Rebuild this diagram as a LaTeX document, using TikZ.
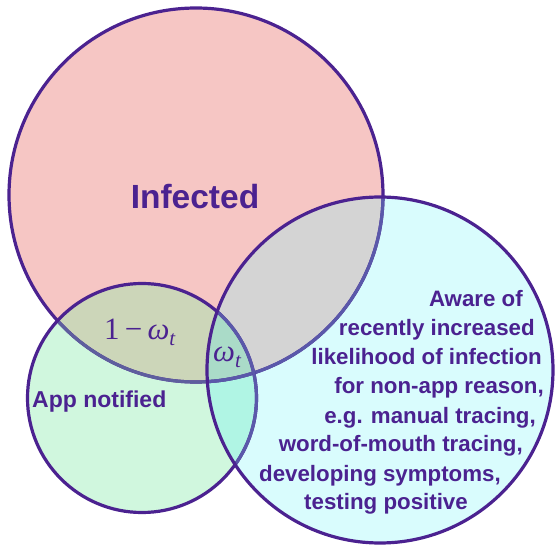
\documentclass[tikz,border=0pt]{standalone}
\usepackage{fontspec}
\setmainfont{Liberation Sans}
\newfontfamily\mathserif{Liberation Serif}
\definecolor{ink}{HTML}{4B2290}
\definecolor{inklightA}{HTML}{5A58AA}
\definecolor{inklightB}{HTML}{5E5E9E}
\definecolor{pinkfill}{HTML}{F6C6C4}
\definecolor{greenfill}{HTML}{D0F7DE}
\definecolor{cyanfill}{HTML}{D9FCFD}
\definecolor{olivefill}{HTML}{CCD6B9}
\definecolor{grayfill}{HTML}{D4D4D4}
\definecolor{aquafill}{HTML}{B0F5E4}
\definecolor{triplefill}{HTML}{AADBC8}
\newcommand{\omsub}{{\itshape ω}\raisebox{-6pt}{\fontsize{21}{21}\selectfont\itshape t}}
\tikzset{
  ring/.style={line width=3.2pt},
  lbl/.style={text=ink, font=\bfseries\fontsize{22.3}{26}\selectfont, inner sep=0pt},
  mathlbl/.style={text=ink, font=\mathserif\fontsize{31}{31}\selectfont, inner sep=0pt}
}
\begin{document}
\begin{tikzpicture}[x=1pt,y=-1pt]
\useasboundingbox (0,0) rectangle (555,548);
\def\infc{(196,195) circle[radius=187]}
\def\appc{(142,398) circle[radius=114.5]}
\def\awrc{(380,370) circle[radius=173]}
% base fills
\fill[pinkfill] \infc;
\fill[greenfill] \appc;
\fill[cyanfill] \awrc;
% pairwise overlaps
\begin{scope}
  \clip \infc;
  \fill[olivefill] \appc;
  \fill[grayfill] \awrc;
\end{scope}
\begin{scope}
  \clip \appc;
  \fill[aquafill] \awrc;
  \clip \infc;
  \fill[triplefill] \awrc;
\end{scope}
% strokes: Infected (covered parts lighter)
\draw[ring, ink] \infc;
\begin{scope}
  \clip \appc;
  \draw[ring, inklightB] \infc;
\end{scope}
\begin{scope}
  \clip \awrc;
  \draw[ring, inklightA] \infc;
\end{scope}
% App notified
\draw[ring, ink] \appc;
\begin{scope}
  \clip \awrc;
  \draw[ring, inklightA] \appc;
\end{scope}
% Aware
\draw[ring, ink] \awrc;
% labels
\node[lbl, font=\bfseries\fontsize{33.5}{36}\selectfont, anchor=base] (infected) at (195,208.5) {Infected};
\node[lbl, font=\bfseries\fontsize{23}{26}\selectfont, anchor=base west] (app) at (32,407) {App notified};
\node[mathlbl, anchor=base west] (oneminus) at (104,340) {1\,−\,\omsub};
\node[mathlbl, anchor=base west] (omega) at (213,362) {\omsub};
\node[lbl, anchor=base east] (a1) at (523,307) {Aware of};
\node[lbl, anchor=base east] (a2) at (535,336) {recently increased};
\node[lbl, anchor=base east] (a3) at (542,365) {likelihood of infection};
\node[lbl, anchor=base east] (a4) at (544,394) {for non-app reason,};
\node[lbl, anchor=base east] (a5) at (536,423.5) {e.g. manual tracing,};
\node[lbl, anchor=base east] (a6) at (523,452) {word-of-mouth tracing,};
\node[lbl, anchor=base east] (a7) at (501,481) {developing symptoms,};
\node[lbl, anchor=base east] (a8) at (468,509.5) {testing positive};
\end{tikzpicture}
\end{document}
